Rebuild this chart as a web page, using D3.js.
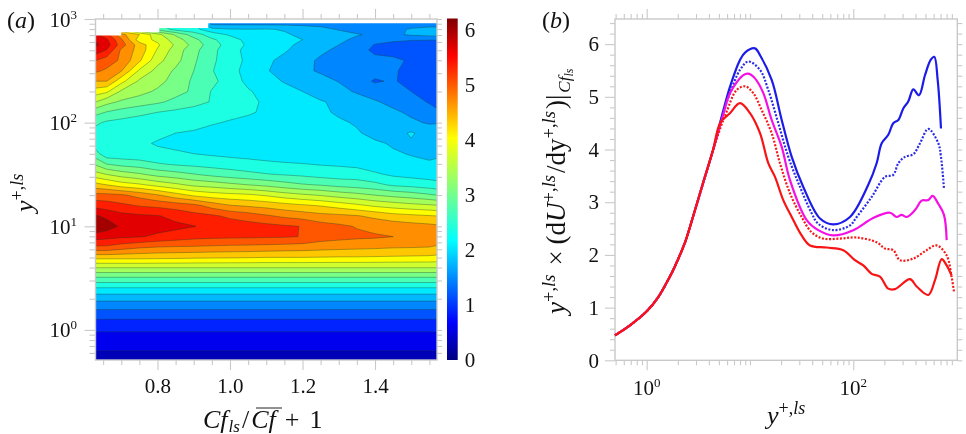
<!DOCTYPE html>
<html>
<head>
<meta charset="utf-8">
<script src="https://cdn.jsdelivr.net/npm/d3@7"></script>
<style>
html, body { margin: 0; padding: 0; background: #fff; }
svg { display: block; filter: blur(0.4px); }
text { font-family: "Liberation Serif", serif; fill: #111; }
</style>
</head>
<body>
<div id="chart"></div>
<script>
// panel (a): contour field, rows are log10(y+) from the top of the plot down
var cfCols = [0.63,0.66,0.70,0.75,0.80,0.85,0.90,0.95,1.0,1.05,1.1,1.15,1.2,1.25,1.3,1.35,1.4,1.45,1.5,1.55,1.57];
var logRows = [3.0,2.95,2.9,2.85,2.8,2.75,2.7,2.6,2.5,2.4,2.3,2.2,2.1,2.0,1.9,1.8,1.7,1.6,1.5,1.4,1.3,1.2,1.1,1.0,0.9,0.8,0.7];
var fieldOuter = [
  [4.0,3.9,3.5,3.0,2.7,2.5,2.4,1.7,1.7,1.7,1.7,1.7,1.7,1.7,1.7,1.7,1.7,1.7,1.7,1.7,1.7],
  [4.2,4.1,3.7,3.0,2.75,2.5,2.45,1.75,1.75,1.75,1.75,1.74,1.73,1.72,1.7,1.68,1.66,1.66,1.68,1.7,1.7],
  [4.5,4.3,3.9,3.2,2.9,2.6,2.5,2.2,2.12,2.11,2.12,2.08,1.98,1.88,1.78,1.7,1.68,1.72,1.83,1.88,1.88],
  [5.45,5.2,4.6,4.2,3.7,3.25,2.85,2.55,2.35,2.2,2.12,2.13,2.05,1.95,1.9,1.82,1.75,1.72,1.85,1.9,1.9],
  [5.68,5.45,4.85,4.05,3.83,3.45,3.1,2.75,2.55,2.3,2.2,2.16,2.1,1.98,1.85,1.75,1.62,1.55,1.52,1.52,1.52],
  [5.75,5.55,4.95,4.35,3.95,3.55,3.2,2.82,2.58,2.35,2.22,2.15,2.05,1.9,1.8,1.7,1.48,1.42,1.38,1.3,1.28],
  [5.6,5.38,4.75,4.38,3.87,3.46,3.1,2.78,2.53,2.3,2.2,2.13,2.0,1.85,1.75,1.65,1.42,1.35,1.3,1.25,1.22],
  [5.1,4.95,4.75,4.25,3.7,3.4,3.05,2.75,2.55,2.33,2.15,2.03,1.88,1.76,1.7,1.63,1.6,1.58,1.45,1.3,1.25],
  [4.85,4.75,4.52,3.85,3.5,3.25,3.0,2.72,2.5,2.3,2.12,2.0,1.85,1.77,1.72,1.65,1.6,1.54,1.4,1.3,1.28],
  [4.5,4.5,4.0,3.55,3.4,3.18,2.95,2.78,2.55,2.33,2.2,2.08,1.98,1.88,1.79,1.62,1.47,1.53,1.4,1.3,1.3],
  [4.05,3.95,3.55,3.4,3.25,3.1,2.95,2.68,2.55,2.43,2.3,2.2,2.1,2.0,1.88,1.77,1.66,1.57,1.5,1.38,1.35],
  [3.6,3.4,3.25,3.15,3.05,2.92,2.8,2.68,2.55,2.46,2.36,2.28,2.2,2.12,2.05,1.93,1.83,1.72,1.6,1.48,1.42],
  [3.1,2.98,2.88,2.78,2.7,2.63,2.58,2.52,2.46,2.43,2.36,2.28,2.2,2.14,2.07,2.0,1.93,1.85,1.75,1.6,1.55],
  [2.75,2.65,2.6,2.55,2.52,2.5,2.46,2.42,2.38,2.33,2.3,2.27,2.23,2.18,2.13,2.08,2.02,1.95,1.85,1.77,1.78],
  [2.6,2.55,2.5,2.48,2.45,2.4,2.38,2.33,2.28,2.25,2.24,2.22,2.2,2.19,2.17,2.12,2.04,2.0,2.13,1.98,1.98],
  [2.55,2.5,2.48,2.44,2.38,2.33,2.3,2.27,2.25,2.23,2.22,2.21,2.2,2.2,2.19,2.17,2.13,2.08,2.07,2.0,2.0],
  [2.8,2.5,2.5,2.48,2.45,2.44,2.4,2.36,2.32,2.3,2.27,2.25,2.23,2.2,2.18,2.15,2.15,2.12,2.09,2.03,2.02],
  [3.25,3.0,2.9,2.84,2.73,2.66,2.62,2.58,2.55,2.5,2.46,2.43,2.41,2.38,2.36,2.32,2.23,2.2,2.14,2.14,2.2],
  [3.72,3.6,3.47,3.35,3.2,3.12,3.02,2.92,2.84,2.78,2.72,2.68,2.64,2.58,2.55,2.55,2.45,2.35,2.3,2.27,2.25],
  [4.3,4.2,4.05,3.95,3.8,3.67,3.53,3.47,3.38,3.3,3.22,3.12,3.03,2.98,2.9,2.85,2.78,2.65,2.6,2.53,2.5],
  [4.9,4.9,4.85,4.7,4.53,4.33,4.15,4.05,4.0,3.96,3.87,3.75,3.66,3.58,3.48,3.4,3.3,3.22,3.15,3.05,3.0],
  [5.3,5.25,5.17,5.08,5.03,4.97,4.89,4.68,4.52,4.46,4.4,4.32,4.25,4.18,4.08,3.97,3.85,3.77,3.7,3.65,3.62],
  [5.73,5.63,5.5,5.45,5.42,5.31,5.2,5.15,5.04,4.95,4.84,4.74,4.67,4.6,4.57,4.52,4.43,4.32,4.27,4.22,4.2],
  [5.95,5.85,5.65,5.55,5.5,5.47,5.41,5.33,5.27,5.23,5.19,5.14,5.09,4.93,4.86,4.78,4.7,4.67,4.62,4.58,4.55],
  [5.55,5.5,5.45,5.42,5.35,5.27,5.2,5.17,5.16,5.15,5.14,5.13,5.09,4.95,4.9,4.86,4.84,4.8,4.7,4.65,4.62],
  [5.05,5.05,4.95,4.85,4.8,4.78,4.77,4.75,4.73,4.72,4.7,4.68,4.66,4.63,4.6,4.58,4.56,4.53,4.52,4.5,4.48],
  [4.3,4.3,4.3,4.3,4.28,4.27,4.25,4.24,4.23,4.22,4.2,4.2,4.2,4.19,4.18,4.18,4.17,4.16,4.15,4.14,4.12]
];
// below y+ = 5 the field does not depend on Cf
var wallLogRows = [0.6,0.5,0.4,0.3,0.2,0.1,0,-0.1,-0.2,-0.3];
var wallField = [3.6,2.95,2.36,1.88,1.51,1.19,0.93,0.76,0.6,0.47];
// white notch at the top of the field, no samples there
var edgeCf = [0.629,0.70,0.805,0.94,1.571];
var edgeLog = [2.84,2.873,2.912,2.96,2.96];
var levels = [0.3,0.6,0.9,1.2,1.5,1.8,2.1,2.4,2.7,3.0,3.3,3.6,3.9,4.2,4.5,4.8,5.1,5.4,5.7];
var barTicks = [0,1,2,3,4,5,6];
var cfMajor = [0.8,1.0,1.2,1.4];
var cfMinor = [0.65,0.7,0.75,0.85,0.9,0.95,1.05,1.1,1.15,1.25,1.3,1.35,1.45,1.5,1.55];

// panel (b): log10(y+) and value, the wall part is shared by all five curves
var wallLog = [-0.307,-0.162,0,0.112,0.2,0.258,0.371,0.448,0.545,0.642];
var wallVal = [0.474,0.664,0.93,1.2,1.5,1.72,2.24,2.72,3.36,3.99];
var blueLog = [0.739,0.806,0.903,0.952,1.048,1.097,1.21,1.307,1.404,1.516,1.678,1.806,1.968,2.145,2.226,2.275,2.339,2.387,2.436,2.484,2.532,2.581,2.636,2.694,2.749,2.784,2.817,2.849];
var blueVal = [4.72,5.19,5.7,5.84,5.92,5.79,5.32,4.56,3.86,3.29,2.69,2.58,2.72,3.33,3.74,4.12,4.28,4.5,4.56,4.78,4.91,5.14,5.03,5.41,5.7,5.76,5.32,4.4];
var blueDotLog = [0.739,0.806,0.903,0.983,1.097,1.177,1.274,1.371,1.484,1.597,1.661,1.806,1.968,2.033,2.178,2.307,2.387,2.436,2.5,2.581,2.646,2.726,2.823,2.849,2.878];
var blueDotVal = [4.68,5.07,5.51,5.67,5.51,5.13,4.5,3.86,3.29,2.79,2.59,2.47,2.56,2.72,3.1,3.48,3.52,3.74,3.86,3.91,4.12,4.39,4.12,3.86,3.26];
var magentaLog = [0.739,0.806,0.935,0.983,1.048,1.129,1.21,1.307,1.387,1.549,1.661,1.806,2.0,2.193,2.355,2.42,2.468,2.517,2.597,2.662,2.726,2.768,2.823,2.878,2.904];
var magentaVal = [4.65,5.07,5.41,5.44,5.35,5.07,4.56,4.05,3.42,2.66,2.47,2.37,2.47,2.7,2.8,2.72,2.76,2.72,2.85,3.03,3.04,3.12,2.97,2.76,2.28];
var redDotLog = [0.739,0.774,0.871,0.952,1.032,1.113,1.21,1.29,1.387,1.5,1.597,1.71,1.871,2.033,2.226,2.307,2.387,2.452,2.581,2.71,2.807,2.904,2.952,2.975];
var redDotVal = [4.55,4.72,5.13,5.2,5.07,4.75,4.31,3.74,3.17,2.72,2.43,2.31,2.31,2.33,2.24,2.12,2.09,1.9,1.93,2.09,2.18,1.99,1.58,1.3];
var redLog = [0.71,0.806,0.903,1.0,1.097,1.177,1.242,1.322,1.404,1.5,1.581,1.742,1.903,2.016,2.097,2.178,2.258,2.339,2.404,2.549,2.614,2.726,2.791,2.856,2.904,2.952];
var redVal = [4.5,4.69,4.88,4.69,4.31,3.74,3.48,3.04,2.72,2.37,2.18,2.14,2.09,1.9,1.8,1.64,1.59,1.36,1.35,1.54,1.4,1.24,1.52,1.92,1.8,1.61];
var valTicks = [0,1,2,3,4,5,6];
var valMinor = d3.range(0, 6.5, 0.2).filter(d => Math.abs(d - Math.round(d)) > 0.01);

var width = 966, height = 434;
var frameColor = "#c9c9c9";

var svg = d3.select("#chart").append("svg")
    .attr("width", width)
    .attr("height", height);

var jet = d3.scaleLinear()
    .domain([0, 0.11, 0.35, 0.65, 0.89, 1])
    .range(["#00007f", "#0000ff", "#00ffff", "#ffff00", "#ff0000", "#7f0000"]);
// colour that a band gets from its lower level, read against the bar
var bandValue = d3.scaleLinear().domain([0.3, 2.1, 5.7]).range([0.3, 2.05, 6.0]);
var zColor = d => jet(bandValue(d) / 6.2);

// text with super/subscripts, parts are [string, italic, size, dy, dx]
function rich(g, parts) {
    var t = g.append("text");
    parts.forEach(p => {
        t.append("tspan")
            .text(p[0])
            .attr("font-style", p[1] ? "italic" : "normal")
            .attr("font-size", p[2])
            .attr("dy", p[3] || 0)
            .attr("dx", p[4] || 0);
    });
    return t;
}

function styleAxis(g) {
    g.select(".domain").remove();
    g.selectAll("line").attr("stroke", frameColor).attr("stroke-width", 1.1);
    g.selectAll("text").attr("font-size", 21).attr("font-family", "Liberation Serif").attr("fill", "#111");
}

// ---------- panel a
var a = { left: 95.5, right: 437, top: 19, bottom: 360 };
var xA = d3.scaleLinear().domain([0.629, 1.571]).range([a.left, a.right]);
var yA = d3.scaleLog().domain([Math.pow(10, -0.29), 1000]).range([a.bottom, a.top]);

var allRows = logRows.concat(wallLogRows);
var allField = fieldOuter.concat(wallField.map(v => cfCols.map(() => v)));
var values = [];
allField.forEach(r => r.forEach(v => values.push(v)));

var nx = cfCols.length, ny = allRows.length;
// contour coords are cell based: sample i sits at i + 0.5, the outer edge runs past the plot so it gets clipped
var sx = d3.scaleLinear()
    .domain([0].concat(cfCols.map((d, i) => i + 0.5), [nx]))
    .range([a.left - 3].concat(cfCols.map(d => xA(d)), [a.right + 3]));
var sy = d3.scaleLinear()
    .domain([0].concat(allRows.map((d, i) => i + 0.5), [ny]))
    .range([a.top - 3].concat(allRows.map(d => yA(Math.pow(10, d))), [a.bottom + 3]));

var contourPath = d3.geoPath(d3.geoTransform({
    point: function (x, y) { this.stream.point(sx(x), sy(y)); }
}));

svg.append("clipPath").attr("id", "clipA").append("rect")
    .attr("x", a.left).attr("y", a.top)
    .attr("width", a.right - a.left).attr("height", a.bottom - a.top);

var field = svg.append("g").attr("clip-path", "url(#clipA)");
var contours = d3.contours().size([nx, ny]).thresholds(levels)(values);
field.selectAll("path")
    .data(contours)
    .enter().append("path")
    .attr("d", contourPath)
    .attr("fill", d => zColor(d.value))
    .attr("stroke", "#1a3a2a")
    .attr("stroke-opacity", 0.5)
    .attr("stroke-width", 0.7)
    .attr("stroke-linejoin", "round");

// the part of the box with no samples
var notch = d3.area()
    .curve(d3.curveStepAfter)
    .x((d, i) => xA(edgeCf[i]))
    .y0(a.top)
    .y1(d => yA(Math.pow(10, d)));
field.append("path").datum(edgeLog).attr("d", notch).attr("fill", "#fff");

var decades = [0, 1, 2, 3];
var logMinor = [];
[-1, 0, 1, 2].forEach(e => [2, 3, 4, 5, 6, 7, 8, 9].forEach(m => {
    var v = m * Math.pow(10, e);
    if (v >= 0.52 && v < 1000) logMinor.push(v);
}));
var logMajor = decades.map(d => Math.pow(10, d));

svg.append("g").attr("transform", `translate(${a.left},0)`)
    .call(d3.axisLeft(yA).tickValues(logMajor).tickSize(11).tickFormat("")).call(styleAxis);
svg.append("g").attr("transform", `translate(${a.left},0)`)
    .call(d3.axisLeft(yA).tickValues(logMinor).tickSize(6).tickFormat("")).call(styleAxis);
svg.append("g").attr("transform", `translate(${a.right},0)`)
    .call(d3.axisRight(yA).tickValues(logMinor.concat(logMajor)).tickSize(5).tickFormat("")).call(styleAxis);
svg.append("g").attr("transform", `translate(0,${a.bottom})`)
    .call(d3.axisBottom(xA).tickValues(cfMajor).tickSize(10).tickPadding(8).tickFormat(d3.format(".1f"))).call(styleAxis);
svg.append("g").attr("transform", `translate(0,${a.bottom})`)
    .call(d3.axisBottom(xA).tickValues(cfMinor).tickSize(5).tickFormat("")).call(styleAxis);
svg.append("g").attr("transform", `translate(0,${a.top})`)
    .call(d3.axisTop(xA).tickValues(cfMajor).tickSize(10).tickFormat("")).call(styleAxis);
svg.append("g").attr("transform", `translate(0,${a.top})`)
    .call(d3.axisTop(xA).tickValues(cfMinor).tickSize(5).tickFormat("")).call(styleAxis);
svg.append("rect")
    .attr("x", a.left).attr("y", a.top)
    .attr("width", a.right - a.left).attr("height", a.bottom - a.top)
    .attr("fill", "none").attr("stroke", frameColor).attr("stroke-width", 1.4);

decades.forEach(d => {
    var t = rich(svg, [["10", false, 21], [String(d), false, 13, -8]]);
    t.attr("text-anchor", "end")
        .attr("x", 77)
        .attr("y", yA(Math.pow(10, d)) + 7.5);
});

// colour bar
var yBar = d3.scaleLinear().domain([0, 6.2]).range([360, 18.5]);
var grad = svg.append("defs").append("linearGradient")
    .attr("id", "jetBar").attr("x1", 0).attr("y1", 1).attr("x2", 0).attr("y2", 0);
jet.domain().forEach(d => {
    grad.append("stop").attr("offset", d).attr("stop-color", jet(d));
});
svg.append("rect")
    .attr("x", 447).attr("y", yBar(6.2))
    .attr("width", 10.7).attr("height", yBar(0) - yBar(6.2))
    .attr("fill", "url(#jetBar)");
svg.append("g").attr("transform", "translate(457.7,0)")
    .call(d3.axisRight(yBar).tickValues(barTicks).tickSize(0).tickPadding(7).tickFormat(d3.format("d")))
    .call(styleAxis);

rich(svg, [["(", false, 24], ["a", true, 24], [")", false, 24]]).attr("x", 7).attr("y", 28);

var yLabA = rich(svg, [["y", true, 26], ["+,", false, 18, -10], ["ls", true, 18]]);
yLabA.attr("transform", "translate(33,212) rotate(-90)");

var xLabA = rich(svg, [["Cf", true, 26], ["ls", true, 17, 4, 1], ["/", false, 26, -4, 2], ["Cf", true, 26, 0, 2], ["+", false, 26, 0, 9], ["1", false, 26, 0, 10]]);
xLabA.attr("x", 203).attr("y", 427.5);
svg.append("line")
    .attr("x1", 256).attr("x2", 282).attr("y1", 408).attr("y2", 408)
    .attr("stroke", "#222").attr("stroke-width", 1);

// ---------- panel b
var b = { left: 615, right: 957.3, top: 19, bottom: 360.3 };
var xB = d3.scaleLog().domain([Math.pow(10, -0.307), Math.pow(10, 3.007)]).range([b.left, b.right]);
var yB = d3.scaleLinear().domain([0, 6.477]).range([b.bottom, b.top]);

var xMajor = [1, 100];
var xMinor = [];
[-1, 0, 1, 2].forEach(e => [1, 2, 3, 4, 5, 6, 7, 8, 9].forEach(m => {
    var v = m * Math.pow(10, e);
    if (v >= 0.5 && v <= 1000 && v !== 1 && v !== 100) xMinor.push(v);
}));

svg.append("g").attr("transform", `translate(${b.left},0)`)
    .call(d3.axisLeft(yB).tickValues(valTicks).tickSize(10).tickPadding(6).tickFormat(d3.format("d"))).call(styleAxis);
svg.append("g").attr("transform", `translate(${b.left},0)`)
    .call(d3.axisLeft(yB).tickValues(valMinor).tickSize(5).tickFormat("")).call(styleAxis);
svg.append("g").attr("transform", `translate(${b.right},0)`)
    .call(d3.axisRight(yB).tickValues(valTicks.concat(valMinor)).tickSize(5).tickFormat("")).call(styleAxis);
svg.append("g").attr("transform", `translate(0,${b.bottom})`)
    .call(d3.axisBottom(xB).tickValues(xMajor).tickSize(10).tickFormat("")).call(styleAxis);
svg.append("g").attr("transform", `translate(0,${b.bottom})`)
    .call(d3.axisBottom(xB).tickValues(xMinor).tickSize(5).tickFormat("")).call(styleAxis);
svg.append("g").attr("transform", `translate(0,${b.top})`)
    .call(d3.axisTop(xB).tickValues(xMajor).tickSize(10).tickFormat("")).call(styleAxis);
svg.append("g").attr("transform", `translate(0,${b.top})`)
    .call(d3.axisTop(xB).tickValues(xMinor).tickSize(5).tickFormat("")).call(styleAxis);
svg.append("rect")
    .attr("x", b.left).attr("y", b.top)
    .attr("width", b.right - b.left).attr("height", b.bottom - b.top)
    .attr("fill", "none").attr("stroke", frameColor).attr("stroke-width", 1.4);

var line = d3.line()
    .x(d => xB(Math.pow(10, d[0])))
    .y(d => yB(d[1]))
    .curve(d3.curveCatmullRom.alpha(0.5));

var series = [
    { log: blueLog, val: blueVal, color: "#1c1ce8", dash: null },
    { log: blueDotLog, val: blueDotVal, color: "#2c2ce8", dash: "2 1.6" },
    { log: magentaLog, val: magentaVal, color: "#f410e4", dash: null },
    { log: redDotLog, val: redDotVal, color: "#f81818", dash: "2 1.6" },
    { log: redLog, val: redVal, color: "#f81414", dash: null }
];
series.forEach(s => {
    var pts = wallLog.concat(s.log).map((d, i) => [d, wallVal.concat(s.val)[i]]);
    svg.append("path")
        .datum(pts)
        .attr("d", line)
        .attr("fill", "none")
        .attr("stroke", s.color)
        .attr("stroke-width", 2.2)
        .attr("stroke-linejoin", "round")
        .attr("stroke-dasharray", s.dash);
});

xMajor.forEach((d, i) => {
    var t = rich(svg, [["10", false, 21], [i == 0 ? "0" : "2", false, 13, -8]]);
    t.attr("text-anchor", "middle").attr("x", xB(d)).attr("y", 395);
});

rich(svg, [["(", false, 24], ["b", true, 24], [")", false, 24]]).attr("x", 542).attr("y", 28);

rich(svg, [["y", true, 26], ["+,", false, 18, -10], ["ls", true, 18]]).attr("x", 767).attr("y", 424);

var yLabB = rich(svg, [
    ["y", true, 27], ["+,", false, 18.5, -10], ["ls", true, 18.5],
    ["×", false, 27, 10, 9], ["(d", false, 27, 0, 6], ["U", true, 27], ["+,", false, 18.5, -10], ["ls", true, 18.5],
    ["/dy", false, 27, 10, 2], ["+,", false, 18.5, -10], ["ls", true, 18.5],
    [")|", false, 27, 10, 2], ["Cf", true, 17, 5, 2], ["ls", true, 12, 3]
]);
yLabB.attr("transform", "translate(565,314) rotate(-90)");
</script>
</body>
</html>
